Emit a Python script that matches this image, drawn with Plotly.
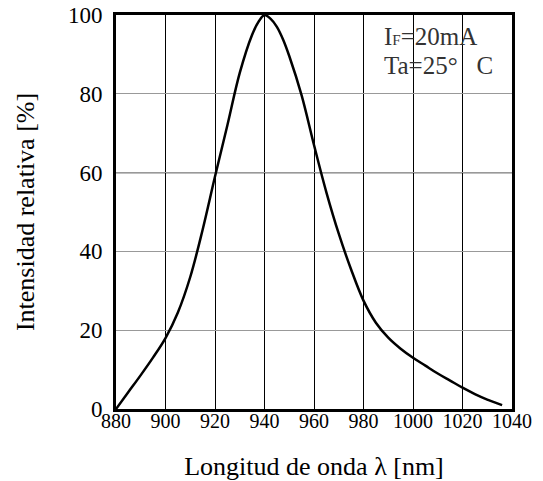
import plotly.graph_objects as go

# Data
wavelength_nm = [880, 885, 890, 895, 900, 905, 910, 915, 920, 925, 930, 935, 937.5, 940,
                 942.5, 945, 947.5, 950, 955, 960, 965, 970, 975, 980, 985, 990, 995, 1000,
                 1005, 1010, 1015, 1020, 1025, 1030, 1036]
relative_intensity = [0, 4.3, 8.6, 13.1, 18, 24.5, 33.5, 45.5, 59, 72, 85.3, 95, 98.2, 100,
                      99, 97, 93.8, 89.6, 79.6, 67, 55, 44.5, 35.4, 27.5, 21.9, 18.1, 15.3, 13,
                      11, 9, 7.2, 5.4, 3.8, 2.4, 1.0]
x_ticks = [880, 900, 920, 940, 960, 980, 1000, 1020, 1040]
y_ticks = [0, 20, 40, 60, 80, 100]
y_black_grid = [60]

FONT = "Liberation Serif"

fig = go.Figure()
fig.add_trace(go.Scatter(
    x=wavelength_nm, y=relative_intensity, mode="lines",
    line=dict(color="black", width=2.5, shape="spline", smoothing=1.0),
    showlegend=False, hoverinfo="skip",
))

for yv in y_black_grid:
    fig.add_shape(type="line", xref="x", yref="y", x0=x_ticks[0], x1=x_ticks[-1],
                  y0=yv, y1=yv, line=dict(color="black", width=1.3), layer="below")

fig.add_annotation(
    xref="paper", yref="paper", x=0.672, y=0.945, xanchor="left", yanchor="middle",
    text="I<span style='font-size:15px'>F</span>=20mA", showarrow=False,
    font=dict(family=FONT, size=25, color="#333333"),
)
fig.add_annotation(
    xref="paper", yref="paper", x=0.672, y=0.872, xanchor="left", yanchor="middle",
    text="Ta=25°\u2002 C", showarrow=False,
    font=dict(family=FONT, size=25, color="#333333"),
)

fig.update_layout(
    width=543, height=481,
    margin=dict(l=116, r=31, t=15, b=72),
    paper_bgcolor="white", plot_bgcolor="white",
    font=dict(family=FONT, color="black"),
    xaxis=dict(
        range=[x_ticks[0], x_ticks[-1]], tickvals=x_ticks,
        showgrid=True, gridcolor="black", gridwidth=1.2,
        showline=True, linecolor="black", linewidth=2.5, mirror=True,
        ticks="", tickfont=dict(family=FONT, size=20), zeroline=False,
        ticklabelstandoff=-8, automargin=False, ticklabeloverflow="allow",
        title=dict(text="Longitud de onda λ [nm]", font=dict(family=FONT, size=26),
                   standoff=32),
    ),
    yaxis=dict(
        range=[y_ticks[0], y_ticks[-1]], tickvals=y_ticks,
        showgrid=True, gridcolor="#999999", gridwidth=1.3,
        showline=True, linecolor="black", linewidth=3, mirror=True,
        ticks="", tickfont=dict(family=FONT, size=23), zeroline=False,
        ticklabelstandoff=6, automargin=False, ticklabeloverflow="allow",
        title=dict(text="Intensidad relativa [%]", font=dict(family=FONT, size=26),
                   standoff=26),
    ),
)

fig.write_html("out.html", config={"displayModeBar": False},
               post_script="document.body.style.margin='0';document.body.style.overflow='hidden';")
